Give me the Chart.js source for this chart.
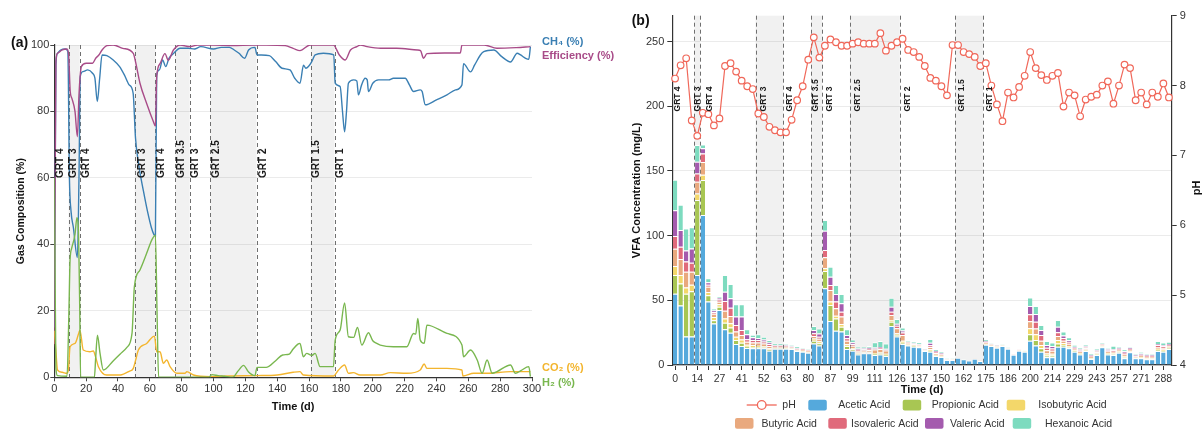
<!DOCTYPE html>
<html><head><meta charset="utf-8">
<script src="https://cdn.jsdelivr.net/npm/chart.js@4.4.1/dist/chart.umd.min.js"></script>
<style>
html,body{margin:0;padding:0;background:#fff;width:1203px;height:432px;overflow:hidden}
#wa{position:absolute;left:0;top:0;width:625px;height:432px}
#wb{position:absolute;left:625px;top:0;width:578px;height:432px}
canvas{display:block}
</style></head><body>
<div id="wa"><canvas id="ca" width="625" height="432"></canvas></div>
<div id="wb"><canvas id="cb" width="578" height="432"></canvas></div>
<script>
// ---------------- Panel (a) data: gas composition ----------------
const ch4Days = [0,1,2,4,7,8.5,9.5,10.5,12,14.5,15.5,16.3,18,21,24,25.5,27,28.5,30,33,37,41,44,47,49.5,51,53,56,58.5,61,62.5,63.5,64.3,66,68,70,72,75,79,84,88,92,100,105,110,113,116,119.5,122,126,127.3,130,135,139,143,148,151,154.3,156.5,158,159.6,161.7,163.8,169,175.5,176.4,179.5,181,182.3,183.5,184.7,188,190,191,193,195.2,196.5,197.3,200,203.6,210,213,220.4,223,225.6,229.8,231,233,240,246.6,252,256,257,261.4,264,267.6,269.7,276,281,286.5,290.7,292.8,296,298,299];
const ch4Pct = [15,94,97.5,98.5,98.8,98,60,50,45,36,60,90.5,92,92.5,91.5,90,83,90,97,96.8,95.5,93.5,91,88,85.5,72,64,56,50,45,43,42.5,91,92.5,95.5,93.5,96,97.5,99,99,98.8,99.5,98.8,99.3,99.3,98.5,97.5,96,98.5,99.3,97,97,96.8,95,93,92.5,90,88.5,93.9,93,93.5,95,97,97.5,97,88.5,87.5,80,73.9,80,88.5,89.5,89.2,85,88,90,89.5,86,88.5,89.5,89.5,90,90,88,86,86.5,86,82,83.5,85,86.5,88,94.4,91.9,94,97,98,98.5,96.5,94.9,97.5,97,96,95.7,99.5];

const effDays = [0,1,2,5,8,9,10,11,13,14.5,15.5,16.3,17,20,24,26,28,30,33,37,43,49.6,51,53.8,58,62.2,63.5,64.3,66.4,69.5,71.6,74.8,79,85,90,100,112,125,133,145,150,154.3,160.6,175.3,179,182.7,186,190,192.2,196.4,205,215,228,230,231.9,234,245,255,256,270,278,290,299];
const effPct = [10,95,97.5,98.5,98.8,97,86,84,80,72.4,85,91,93.5,94.5,94.5,96,97,98.5,99.8,100,99,97.5,95,88.5,82.4,77,75.6,90.4,94.4,97.4,95.4,98.5,100,99.5,100,100,99.8,100,100,99.8,99,98.3,100,100,97,95.5,98.5,99.5,100,99.5,99,99,98.5,98.3,96,97.4,97.6,97.6,100,100,99,99.2,99.5];

const co2Days = [0,1,2,5,7.8,8.8,9.9,13,15.5,16.1,18.2,22.4,24.5,26,27.7,32.9,41.4,47,49.6,51,52.8,58,62.9,64.3,66.4,68.5,70.6,72.7,76.9,82.2,83.2,87.4,97.9,110,127,140,150,154.3,156.4,175.3,178.5,182.3,184.7,187.8,192,204.7,211,221.4,229.8,232.3,234,246.6,256,256.6,263.4,271.8,286.5,299];
const co2Pct = [14,8,2.2,1.5,1.2,2,9.2,10.2,13.5,14.2,8.2,7.7,7.9,6,3.2,0.7,0.7,1.8,2.7,5,8.2,10.2,12.4,7.7,7.7,4.2,5.2,3.2,1.2,1.2,1.7,0.7,0.2,0.4,0.5,0.7,1.5,1.7,0.7,0.4,2.2,3.7,1.2,1.4,0.7,0.7,1.4,1.2,2.2,4,2.7,2.7,2.2,0.4,1.2,1.2,1.7,1.7];

const h2Days = [0,1,2,8,9.2,9.9,10.9,13,14.2,15,16,16.5,25.2,26,27.1,28.7,30.8,37.1,41.4,45.6,48.8,50.3,53.8,58,61.2,63.5,64.5,65.5,97,99,103,107,112,115.6,118.8,122,126,127.3,133,139,143.4,147.6,150,153,154.3,156.4,158.5,161.7,163.8,166.9,175.3,176.4,179.5,182.3,184.7,188,190.4,193.1,197.3,200,202.5,204.7,213,221.4,225.6,227,228.3,229.8,232.3,234,246.6,256,257,261.4,265.6,268.7,271.8,275,278,286.5,289.6,293,298,299];
const h2Pct = [60,3,0.5,0.3,20,35.3,38.8,43,48,46,20,0,0,6,12.7,7.3,2.2,5,7,9,13.2,27.3,32.3,37.3,41.3,42.8,20,0,0,0.8,0.5,0.3,0,2,3.6,1.6,0.5,3,3,5,6.7,7,8.5,10,10.2,6.2,7.2,6.6,7.2,3.2,3.2,11.2,14.2,22.4,12.2,12,15,9.7,13.4,11,10.2,9.7,9.2,9.2,13.2,13,17.7,11.2,10.2,15.7,13.2,9.7,6.2,8.2,5.2,1.2,5.2,1.2,1.7,3.7,1.2,2,3.2,0.2];

// GRT phases (panel a, in days)
const grtSpansA = [[9,16],[50.5,63.5],[76,85],[98,127],[161,176]];
const grtLinesA = [9,16,50.5,63.5,76,85,98,127,161,176];
const grtLabelDaysA = [0,9,16,50.5,63.5,76,85,98,127,161,176];
const grtLabelsA = ['GRT 4','GRT 3','GRT 4','GRT 3','GRT 4','GRT 3.5','GRT 3','GRT 2.5','GRT 2','GRT 1.5','GRT 1'];

// ---------------- Panel (b) data: VFA and pH ----------------
const vfaDays = [0,2,5,7,14,17,20,24,27,30,34,38,41,44,47,50,52,55,58,60,63,66,70,73,80,82,84,86,87,90,94,97,99,102,105,108,111,115,119,122,126,129,131,134,137,140,143,147,150,153,157,160,162,166,169,172,175,178,181,183,186,190,193,197,200,203,207,210,214,217,221,225,229,232,236,239,243,246,250,253,257,260,264,267,271,275,278,282,288,292];
const acetic = [55,46,22,22,69.6,116,49,32,42.5,27.6, 25,16.2,14.7,13.1,12.9,12.9,12.9,11.1,12.6,12.6, 12.6,12.4,10.8,10.3,9.5,16.7,15,59.3,34,26.5, 25.8,12.4,11.1,8.2,9,9,7.7,8.2,7,30.1, 22,16.2,15,14.2,13.7,10.8,10.3,7,6.2,3.9, 3.9,5.7,4.4,3.4,4.9,3.1,15.7,14.7,13.4,14.7, 12.6,8,11.1,10.3,18.7,15,10.3,5.9,5.9,14.2, 14.2,12.9,10.3,8.2,10.8,4.6,7.7,13.7,8.2,7.7, 9.5,5.2,9.8,5.2,5.2,4.4,4.4,10.8,10.3,12.4];
const propionic = [14.5,17,33,35,58,27,5,2.6,2.6,5, 3.9,3.1,2.5,1.1,1,1,0.8,0.8,0.3,0.3, 0.3,0.3,0.3,0.3,0.3,2.1,1.8,13.4,12.4,9.5, 3.8,2.3,1,0.7,0.6,0.6,0.8,0.8,0.8,3.4, 1.3,1,0.4,0.4,0.4,0.2,0.8,0.4,0.3,0.1, 0.1,0,0,0,0,0,0.4,0.2,0.2,0.2, 0.1,0,0.1,0.2,5,4.3,2.6,1.5,1.4,2.5, 1.3,0.8,0.5,0.5,0.5,0.4,0.5,0.4,0.5,0.6, 0.5,0.7,0.4,0.3,0.5,0.4,0.4,0.8,0.8,0.6];
const isobutyric = [7,6.5,5,5,5,4,2.5,2.5,1.8,3.3, 3.3,2.6,2.6,1.5,1.5,1,1,1,0.5,0.5, 0.4,0.3,0.3,0.3,0.3,1.6,1.5,2,2.6,2, 2.1,1.3,1,0.7,0.6,0.7,0.8,0.8,0.8,1.3, 1.2,1.5,0.4,0.4,0.3,0.2,1,0.5,0.4,0.1, 0.1,0,0,0,0,0,0.4,0.2,0.2,0.1, 0.1,0,0.1,0.2,4.8,4.4,2.6,1.5,1.4,2.6, 1.3,1,0.6,0.6,0.6,0.5,0.6,0.4,0.6,0.8, 0.6,0.8,0.5,0.3,0.5,0.5,0.5,0.9,0.9,0.6];
const butyric = [13.4,12.4,12,10,9,10,4,2.5,2,6, 5.7,3.9,3.4,2.3,2,2.5,2,1.8,0.8,0.8, 0.8,0.6,0.6,0.7,0.7,2,2,8.5,9,5.8, 5.7,2.8,1.8,1.2,1,1.2,2.6,2.6,2.6,3.8, 4,4.4,1.2,1,0.9,0.4,1.8,1.3,1,0.3, 0.3,0.1,0.1,0.2,0.1,0.3,0.9,0.6,0.6,0.4, 0.3,0.2,0.3,0.3,5.3,4.6,3.3,2.5,2.3,3.1, 2,1.8,1.2,1.2,1.1,0.9,1.1,0.9,1.2,1.2, 1.2,1.5,0.9,0.7,1,0.9,0.9,1.5,1.2,1];
const isovaleric = [9.8,9.5,8,7,6.5,6.5,1.5,1.3,1.8,7.5, 6.4,5.1,3.8,2,2,2,1.5,1.5,0.8,0.8, 0.6,0.5,0.6,0.6,0.6,2.1,1.5,5.7,3.8,5.2, 3.8,1.8,1.3,1,0.9,0.9,0.8,0.8,0.7,2.6, 1.8,2,0.5,0.5,0.5,0.2,1.3,0.8,0.6,0.2, 0.2,0,0,0.1,0,0.2,0.6,0.3,0.3,0.2, 0.2,0.1,0.2,0.2,5.5,5.2,4.4,2,1.8,2.9, 2,1.3,0.8,0.8,0.8,0.6,0.8,0.6,0.8,1.1, 0.8,1.3,0.8,0.5,0.8,0.8,0.8,1.2,1.2,0.8];
const valeric = [20,13,8.5,11,9,4,2,1.3,1.3,7.2, 7.2,6.5,10.4,3.7,2,1.5,1.5,1.2,0.5,0.5, 0.5,0.4,0.5,0.5,0.5,2.5,2.6,14.9,6.5,5.9, 6.5,2.6,1.3,0.9,0.8,0.9,0.9,0.8,0.7,3.9, 1.6,1.5,0.5,0.4,0.4,0.2,2,0.8,0.6,0.1, 0.1,0,0,0,0,0,0.6,0.3,0.3,0.2, 0.1,0,0.1,0.2,6.3,5.9,3.8,2,1.8,4.3, 2,1.3,0.8,0.8,0.7,0.6,0.7,0.5,0.8,0.7, 0.7,1.1,0.7,0.5,0.8,0.5,0.5,1.1,1,0.8];
const hexanoic = [23.5,19.5,17,16.5,13,3,3,1.5,1.3,13, 11.1,9.5,9.5,3.9,2,2.8,2.2,1.9,1.2,1.2, 1,0.9,1.1,1,1,3.1,3.9,8.3,7.7,6.9, 7.2,4.4,2.3,1.5,1.3,1.4,3.9,4.6,4.1,6.9, 3.7,2.4,0.8,0.9,1.1,0.4,2.9,1.3,1.2,0.3, 0.3,0.1,0.1,0.2,0.2,0.3,1.2,0.4,0.5,0.4, 0.3,0.2,0.2,0.2,6.5,6.2,3.9,3.2,2.7,5.2, 3,2.3,1.3,1.3,1,0.9,1,0.8,0.8,2.8, 0.9,1.5,0.6,1,1.5,1,1,2.3,1.9,1.8];
const phValues = [8.10,8.29,8.39,7.50,7.28,7.61,7.59,7.43,7.53,8.28, 8.32,8.20,8.07,7.99,7.95,7.60,7.55,7.41,7.36,7.33, 7.33,7.51,7.79,7.99,8.37,8.69,8.40,8.57,8.66,8.62, 8.57,8.57,8.60,8.62,8.60,8.60,8.60,8.75,8.50,8.57, 8.62,8.67,8.51,8.48,8.41,8.28,8.11,8.07,7.99,7.86, 8.58,8.58,8.48,8.45,8.41,8.28,8.32,8.00,7.73,7.49, 7.90,7.83,7.98,8.14,8.48,8.25,8.15,8.08,8.14,8.18, 7.70,7.90,7.86,7.56,7.80,7.84,7.87,8.00,8.06,7.74, 8.00,8.30,8.25,7.79,7.90,7.73,7.90,7.84,8.03,7.83];

// GRT phases (panel b, in category boundary units)
const grtSpansB = [[3.5,4.5],[14.5,19.5],[24.5,26.5],[31.5,40.5],[50.5,55.5]];
const grtLinesB = [3.5,4.5,14.5,19.5,24.5,26.5,31.5,40.5,50.5,55.5];
const grtLabelPosB = [-0.5,3.5,4.5,14.5,19.5,24.5,26.5,31.5,40.5,50.5,55.5];
const grtLabelsB = ['GRT 4','GRT 3','GRT 4','GRT 3','GRT 4','GRT 3.5','GRT 3','GRT 2.5','GRT 2','GRT 1.5','GRT 1'];

// ---------------- styles ----------------
const FONT = '"Liberation Sans", Arial, Helvetica, sans-serif';
Chart.defaults.font.family = FONT;
Chart.defaults.color = '#333';
const C = {ch4:'#3a7fb3', eff:'#a84b88', co2:'#f3b52e', h2:'#79b74f', ph:'#f0685a',
  acetic:'#55a9dc', propionic:'#a8c653', isobutyric:'#f3d76a', butyric:'#e9a97e',
  isovaleric:'#e06a7b', valeric:'#a45bae', hexanoic:'#7ddbbf'};
const labelOffA = [6,4.7,6,8,5.7,6,5.7,6,6.7,5.7,5.7];
const labelOffB = [5.7,3.3,9.3,8,6,5,8,8,8,6.7,6.7];

function grtPlugin(id, spans, lines, labelPos, labels, offs, fontSize, labelVal, yId){
  return {
    id,
    beforeDatasetsDraw(chart){
      const {ctx, chartArea:a} = chart; const xs = chart.scales.x;
      ctx.save();
      ctx.fillStyle = 'rgba(0,0,0,0.055)';
      spans.forEach(([s,e])=>{const x1=xs.getPixelForValue(s),x2=xs.getPixelForValue(e);ctx.fillRect(x1,a.top,x2-x1,a.bottom-a.top);});
      ctx.strokeStyle='#707070'; ctx.lineWidth=1; ctx.setLineDash([4,3]);
      lines.forEach(v=>{const x=Math.round(xs.getPixelForValue(v))+0.5;ctx.beginPath();ctx.moveTo(x,a.top);ctx.lineTo(x,a.bottom);ctx.stroke();});
      ctx.restore();
    },
    afterDatasetsDraw(chart){
      const {ctx} = chart; const xs = chart.scales.x; const y = chart.scales[yId].getPixelForValue(labelVal);
      ctx.save();
      ctx.fillStyle='#1a1a1a'; ctx.font='bold '+fontSize+'px '+FONT;
      ctx.textAlign='left'; ctx.textBaseline='middle';
      labels.forEach((t,i)=>{const x=xs.getPixelForValue(labelPos[i])+offs[i];ctx.save();ctx.translate(x,y);ctx.rotate(-Math.PI/2);ctx.fillText(t,0,0);ctx.restore();});
      ctx.restore();
    }
  };
}

function series(label, days, vals, color){
  return {label, data: days.map((d,i)=>({x:d,y:vals[i]})), borderColor:color, backgroundColor:color,
    borderWidth:1.4, pointRadius:0, fill:false, cubicInterpolationMode:'monotone'};
}

new Chart(document.getElementById('ca'), {
  type:'line',
  data:{datasets:[
    series('H₂ (%)', h2Days, h2Pct, C.h2),
    series('CO₂ (%)', co2Days, co2Pct, C.co2),
    series('Efficiency (%)', effDays, effPct, C.eff),
    series('CH₄ (%)', ch4Days, ch4Pct, C.ch4)
  ]},
  options:{
    responsive:false, animation:false, devicePixelRatio:1,
    layout:{padding:{top:45,right:93,left:0,bottom:0}},
    plugins:{legend:{display:false}, tooltip:{enabled:false}},
    scales:{
      x:{type:'linear', min:0, max:300,
        ticks:{stepSize:20, font:{size:11}, color:'#333', padding:1.5},
        grid:{drawOnChartArea:false, tickLength:4, color:'#444'},
        border:{color:'#333', width:1.2},
        title:{display:true, text:'Time (d)', font:{size:11, weight:'bold'}, color:'#111', padding:{top:0,bottom:18.7}},
        afterFit(s){s.height=54.7;}},
      y:{min:0, max:100,
        ticks:{stepSize:20, font:{size:11}, color:'#333', padding:1},
        grid:{color:'#ebebeb', tickColor:'#444', tickLength:4},
        border:{color:'#333', width:1.2},
        title:{display:true, text:'Gas Composition (%)', font:{size:10.5, weight:'bold'}, color:'#111', padding:{top:15,bottom:0}},
        afterFit(s){s.width=54.3;}}
    }
  },
  plugins:[
    grtPlugin('grtA', grtSpansA, grtLinesA, grtLabelDaysA, grtLabelsA, labelOffA, 10, 60, 'y'),
    {id:'annA', afterDraw(chart){
      const ctx=chart.ctx; ctx.save();
      ctx.textBaseline='middle'; ctx.textAlign='left';
      ctx.fillStyle='#111'; ctx.font='bold 14px '+FONT; ctx.fillText('(a)', 11, 43);
      ctx.font='bold 11px '+FONT;
      ctx.fillStyle=C.ch4; ctx.fillText('CH₄ (%)', 542, 41.7);
      ctx.fillStyle=C.eff; ctx.fillText('Efficiency (%)', 542, 56);
      ctx.fillStyle=C.co2; ctx.fillText('CO₂ (%)', 542, 367.7);
      ctx.fillStyle=C.h2; ctx.fillText('H₂ (%)', 542, 383.3);
      ctx.restore();
    }}
  ]
});

function barSet(label, vals, color){
  return {type:'bar', label, data:vals, backgroundColor:color, borderColor:'#ffffff',
    borderWidth:{top:1,right:0,bottom:0,left:0}, yAxisID:'y', order:1,
    barPercentage:0.8, categoryPercentage:1};
}

const legendRows = [
  {kind:'line', text:'pH', color:C.ph, x:121.7, tx:157.3, y:405},
  {kind:'box', text:'Acetic Acid', color:C.acetic, x:183.3, tx:213.3, y:405},
  {kind:'box', text:'Propionic Acid', color:C.propionic, x:277.7, tx:306.7, y:405},
  {kind:'box', text:'Isobutyric Acid', color:C.isobutyric, x:381.7, tx:413.3, y:405},
  {kind:'box', text:'Butyric Acid', color:C.butyric, x:110, tx:136.5, y:423.3},
  {kind:'box', text:'Isovaleric Acid', color:C.isovaleric, x:203.3, tx:226, y:423.3},
  {kind:'box', text:'Valeric Acid', color:C.valeric, x:300, tx:325, y:423.3},
  {kind:'box', text:'Hexanoic Acid', color:C.hexanoic, x:387.7, tx:420, y:423.3}
];

new Chart(document.getElementById('cb'), {
  type:'bar',
  data:{labels: vfaDays.map(String), datasets:[
    {type:'line', label:'pH', data:phValues, yAxisID:'y1', order:0, borderColor:C.ph, borderWidth:1.2,
      pointRadius:3.3, pointBackgroundColor:'#fff', pointBorderColor:C.ph, pointBorderWidth:1.2, tension:0},
    barSet('Acetic Acid', acetic, C.acetic),
    barSet('Propionic Acid', propionic, C.propionic),
    barSet('Isobutyric Acid', isobutyric, C.isobutyric),
    barSet('Butyric Acid', butyric, C.butyric),
    barSet('Isovaleric Acid', isovaleric, C.isovaleric),
    barSet('Valeric Acid', valeric, C.valeric),
    barSet('Hexanoic Acid', hexanoic, C.hexanoic)
  ]},
  options:{
    responsive:false, animation:false, devicePixelRatio:1,
    layout:{padding:{top:15.7,left:0,right:0,bottom:0}},
    plugins:{legend:{display:false}, tooltip:{enabled:false}},
    scales:{
      x:{stacked:true, offset:true,
        grid:{offset:false, drawOnChartArea:false, tickLength:5, color:(c)=> (c.index%2===0 ? '#333' : 'rgba(0,0,0,0)')},
        border:{color:'#333', width:1.2},
        ticks:{autoSkip:false, maxRotation:0, minRotation:0, font:{size:10.5}, color:'#333', padding:3,
          callback(v,i){return i%4===0 ? this.getLabelForValue(v) : '';}},
        title:{display:true, text:'Time (d)', font:{size:11, weight:'bold'}, color:'#111', padding:{top:0,bottom:35.4}},
        afterFit(s){s.height=67;}},
      y:{stacked:true, min:0, max:270,
        ticks:{stepSize:50, font:{size:11}, color:'#333', padding:3},
        afterBuildTicks(s){s.ticks = s.ticks.filter(t => t.value % 50 === 0);},
        grid:{color:'#ebebeb', tickColor:'#333', tickLength:5},
        border:{color:'#333', width:1.2},
        title:{display:true, text:'VFA Concentration (mg/L)', font:{size:11, weight:'bold'}, color:'#111', padding:{top:5.7,bottom:0}},
        afterFit(s){s.width=47.3;}},
      y1:{position:'right', min:4, max:9,
        ticks:{stepSize:1, font:{size:11}, color:'#333', padding:3},
        grid:{drawOnChartArea:false, tickColor:'#333', tickLength:5},
        border:{color:'#333', width:1.2},
        afterFit(s){s.width=31.3;}}
    }
  },
  plugins:[
    grtPlugin('grtB', grtSpansB, grtLinesB, grtLabelPosB, grtLabelsB, labelOffB, 8.5, 196, 'y'),
    {id:'annB', afterDraw(chart){
      const ctx=chart.ctx; ctx.save();
      ctx.textBaseline='middle'; ctx.textAlign='left';
      ctx.fillStyle='#111'; ctx.font='bold 14px '+FONT; ctx.fillText('(b)', 6.7, 21);
      ctx.save(); ctx.translate(571.7,188); ctx.rotate(-Math.PI/2); ctx.textAlign='center';
      ctx.font='bold 11px '+FONT; ctx.fillText('pH',0,0); ctx.restore();
      ctx.font='10.5px '+FONT;
      legendRows.forEach(it=>{
        if(it.kind==='line'){
          ctx.strokeStyle=it.color; ctx.lineWidth=1.3;
          ctx.beginPath(); ctx.moveTo(it.x,it.y); ctx.lineTo(it.x+30,it.y); ctx.stroke();
          ctx.fillStyle='#fff'; ctx.beginPath(); ctx.arc(it.x+15,it.y,4.3,0,Math.PI*2); ctx.fill(); ctx.stroke();
        } else {
          ctx.fillStyle=it.color; ctx.beginPath();
          if(ctx.roundRect){ctx.roundRect(it.x,it.y-5.3,18.5,10.7,2);} else {ctx.rect(it.x,it.y-5.3,18.5,10.7);}
          ctx.fill();
        }
        ctx.fillStyle='#333'; ctx.fillText(it.text,it.tx,it.y+0.5);
      });
      ctx.restore();
    }}
  ]
});
</script>
</body></html>
